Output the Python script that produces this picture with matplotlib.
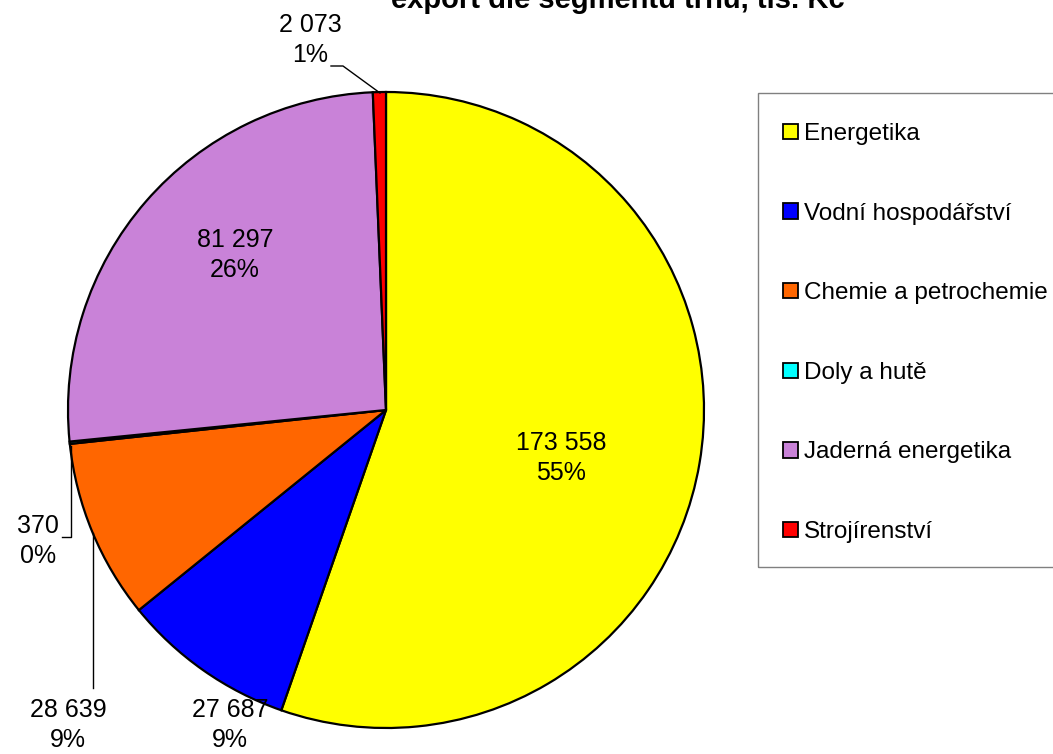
import matplotlib
matplotlib.use("Agg")
import matplotlib.pyplot as plt
from matplotlib.patches import Rectangle

categories = ["Energetika", "Vodní hospodářství", "Chemie a petrochemie",
              "Doly a hutě", "Jaderná energetika", "Strojírenství"]
values = [173558, 27687, 28639, 370, 81297, 2073]
colors = ["#FFFF00", "#0000FF", "#FF6600", "#00FFFF", "#C982D8", "#FF0000"]
title = "export dle segmentu trhů, tis. Kč"

plt.rcParams["font.family"] = ["Liberation Sans", "DejaVu Sans"]
FS_LAB = 18
FS_LEG = 17.5
FS_TITLE = 21

W, H = 1053, 754
fig = plt.figure(figsize=(W / 100, H / 100), dpi=100)
ax = fig.add_axes([0, 0, 1, 1])

def py(y):
    return H - y

wedges, _ = ax.pie(values, colors=colors, startangle=90, counterclock=False,
                   center=(386, py(410)), radius=318, frame=True,
                   wedgeprops=dict(edgecolor="black", linewidth=1.6))
ax.set_xlim(0, W)
ax.set_ylim(0, H)
ax.axis("off")

total = sum(values)
def lab(v):
    s = f"{v:,}".replace(",", " ")
    return f"{s}\n{round(v / total * 100):.0f}%"

# label positions (pixel coords, top-origin)
label_pos = [(561, 458), (230, 725), (68, 725), (38, 541), (235, 255), (310, 40)]
for v, (x, y) in zip(values, label_pos):
    ax.text(x, py(y), lab(v), ha="center", va="center", fontsize=FS_LAB,
            linespacing=1.3)

# leader lines
leaders = [
    [(331, 66), (343, 66), (380, 93)],
    [(62, 537), (71, 537), (71, 446)],
    [(93, 688), (93, 533)],
]
for pts in leaders:
    xs = [p[0] for p in pts]
    ys = [py(p[1]) for p in pts]
    ax.plot(xs, ys, color="black", linewidth=1.0)

# legend frame
ax.add_patch(Rectangle((758 / W, 1 - 567 / H), (W + 10 - 758) / W, (567 - 93) / H,
                       transform=fig.transFigure, facecolor="none",
                       edgecolor="#808080", linewidth=1.0, zorder=0.5, clip_on=False))

leg = ax.legend(wedges, categories, loc="upper left",
                bbox_to_anchor=(783 / W, 1 - 123 / H), bbox_transform=fig.transFigure,
                fontsize=FS_LEG, frameon=False, borderpad=0,
                labelspacing=2.37, handlelength=0.6, handleheight=0.6,
                handletextpad=0.25, borderaxespad=0)
for h in leg.legend_handles:
    h.set_linewidth(1.3)

fig.text(618 / W, 1 - 8 / H, title, ha="center", va="baseline",
         fontsize=FS_TITLE, fontweight="bold")

fig.savefig("out.png", dpi=100)
